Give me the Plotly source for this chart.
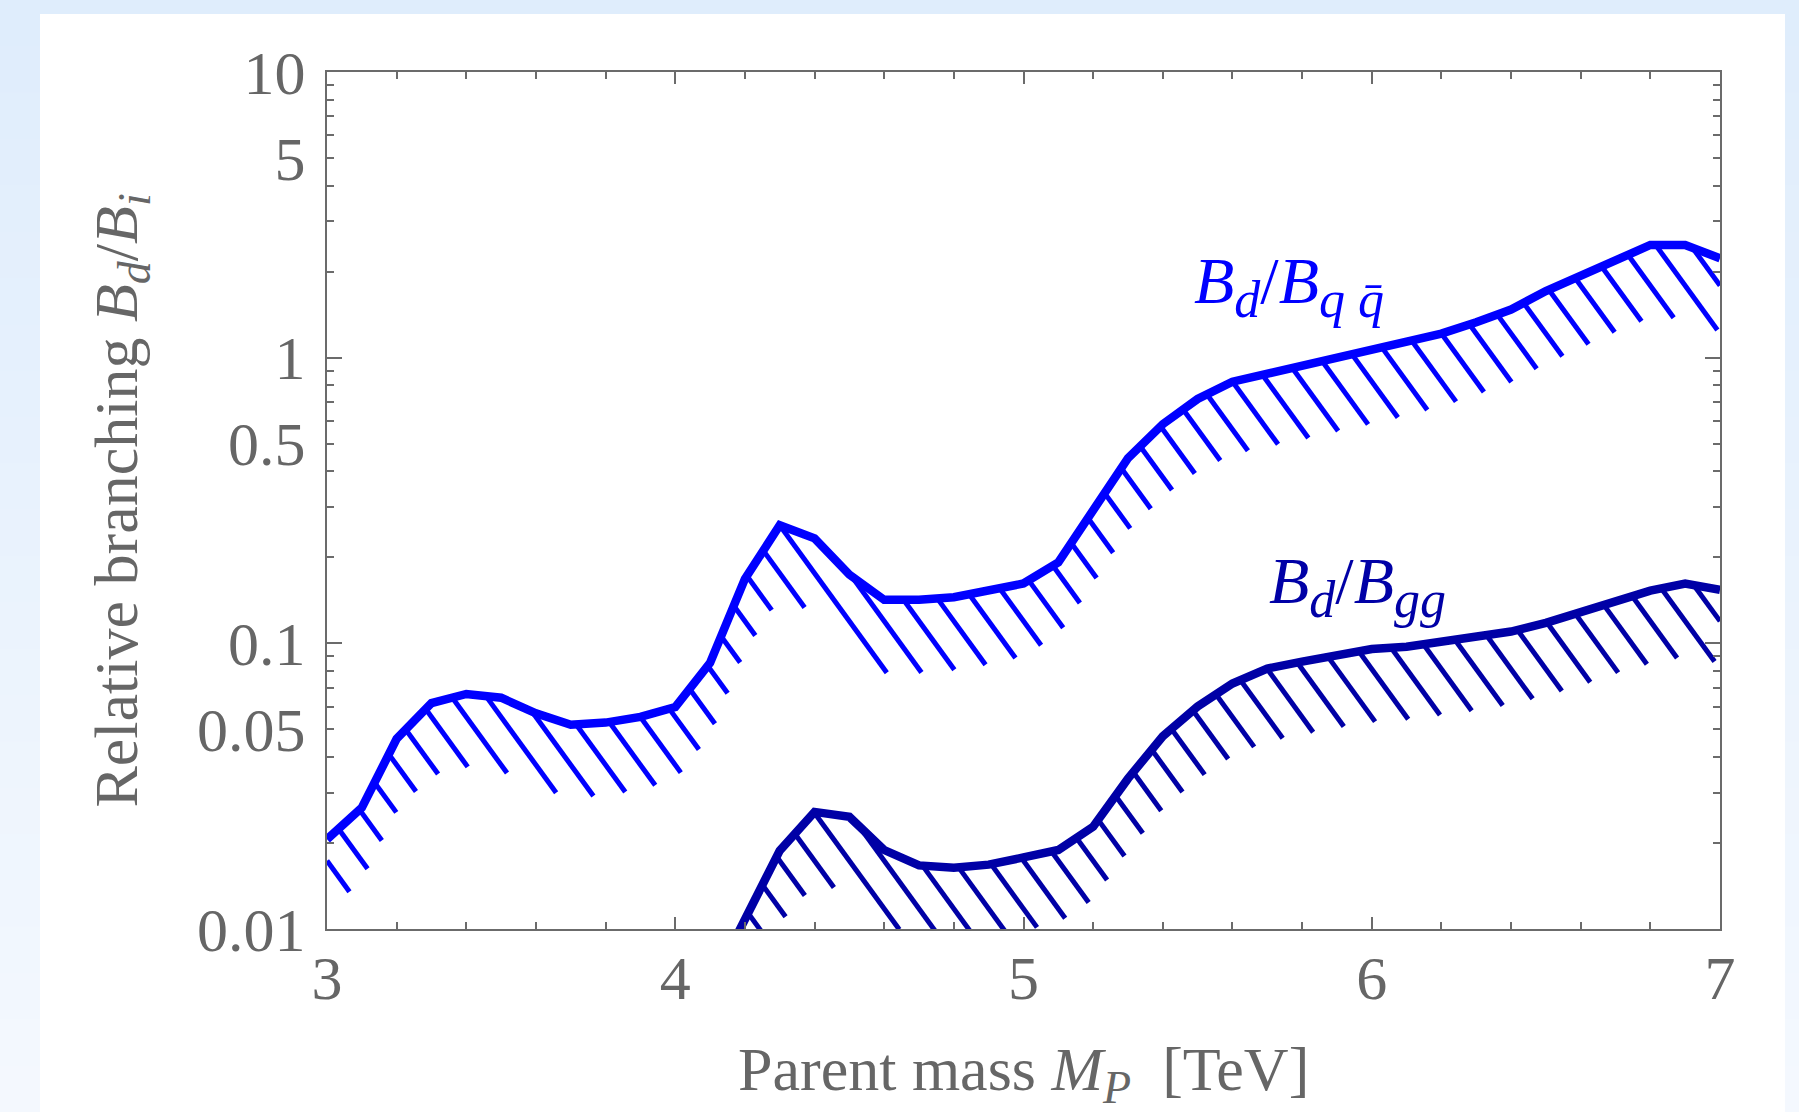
import numpy as np
import plotly.graph_objects as go

# ---------------- data ----------------
mass_qq = [3.0, 3.1, 3.2, 3.3, 3.4, 3.5, 3.6, 3.7, 3.8, 3.9, 4.0, 4.1, 4.2, 4.3, 4.4,
           4.5, 4.6, 4.7, 4.8, 4.9, 5.0, 5.1, 5.2, 5.3, 5.4, 5.5, 5.6, 5.7, 5.8, 5.9,
           6.0, 6.1, 6.2, 6.3, 6.4, 6.5, 6.6, 6.7, 6.8, 6.9, 7.0]
ratio_qq = [0.0206, 0.0266, 0.0463, 0.0618, 0.0665, 0.0645, 0.0569, 0.0519, 0.0528,
            0.0553, 0.0598, 0.0855, 0.168, 0.259, 0.233, 0.174, 0.142, 0.142, 0.145,
            0.152, 0.162, 0.192, 0.292, 0.445, 0.585, 0.717, 0.824, 0.879, 0.929,
            0.991, 1.057, 1.127, 1.214, 1.331, 1.474, 1.71, 1.945, 2.21, 2.48, 2.48, 2.23]

mass_gg = [4.1, 4.2, 4.3, 4.4, 4.5, 4.6, 4.7, 4.8, 4.9, 5.0, 5.1, 5.2, 5.3, 5.4, 5.5,
           5.6, 5.7, 5.8, 5.9, 6.0, 6.1, 6.2, 6.3, 6.4, 6.5, 6.6, 6.7, 6.8, 6.9, 7.0]
ratio_gg = [0.0062, 0.0108, 0.0188, 0.0257, 0.0247, 0.0189, 0.0167, 0.0164, 0.0168,
            0.0178, 0.0189, 0.0228, 0.0336, 0.0473, 0.0601, 0.0723, 0.0816, 0.0863,
            0.0912, 0.0955, 0.0973, 0.101, 0.105, 0.110, 0.118, 0.128, 0.141, 0.153,
            0.162, 0.154]

x_tickvals = [3, 4, 5, 6, 7]
y_tickvals = [0.01, 0.05, 0.1, 0.5, 1, 5, 10]
y_ticktext = ["0.01", "0.05", "0.1", "0.5", "1", "5", "10"]
y_decades = [0.01, 0.1, 1, 10]
y_minor = [m * d for d in [0.01, 0.1, 1] for m in range(2, 10)]

SUB = '<sub><span style="font-size:46px">{}</span></sub>'
SUBL = '<sub><span style="font-size:52px">{}</span></sub>'
label_qq = ("<i>B</i>" + SUBL.format("<i>d</i>") + "/<i>B</i>"
            + SUBL.format("<i>q</i> <i>q\u0304</i>"))
label_gg = "<i>B</i>" + SUBL.format("<i>d</i>") + "/<i>B</i>" + SUBL.format("<i>gg</i>")
x_title = "Parent mass <i>M</i>" + SUB.format("<i>P</i>") + "  [TeV]"
y_title = ("Relative branching <i>B</i>" + SUB.format("<i>d</i>") + "/<i>B</i>"
           + SUB.format("<i>i</i>"))

# ---------------- layout geometry ----------------
W, H = 1799, 1112
L, R, T, B = 327, 1720, 72, 929
plot_w, plot_h = R - L, B - T
XR = [3, 7]
YR = [-2, 1]

def px_x(p):   # pixel -> paper x
    return (p - L) / plot_w

def px_y(p):   # pixel -> paper y
    return (B - p) / plot_h

# hatch geometry (screen-space angle, spacing, band depth in decades)
angle = np.deg2rad(54)
sx = plot_w / (XR[1] - XR[0])
sy = plot_h / (YR[1] - YR[0])
k = np.tan(angle) * sx / sy          # decades per TeV along a hatch line
spacing_x = 0.1                      # horizontal spacing of hatch lines [TeV]
dc = k * spacing_x
depth = 0.255                        # band depth [decades]
phase_c = np.log10(ratio_qq[13]) + k * mass_qq[13]
min_len_px = 10


def hatch_segments(xs, ys):
    lx = np.asarray(xs, float)
    lg = np.log10(np.asarray(ys, float))
    grid = np.linspace(lx[0], lx[-1], 8001)
    g = np.interp(grid, lx, lg)
    cmin = (g - depth + k * grid).min()
    cmax = (g + k * grid).max()
    n0 = int(np.floor((cmin - phase_c) / dc)) - 1
    n1 = int(np.ceil((cmax - phase_c) / dc)) + 1
    hx, hy = [], []
    for n in range(n0, n1 + 1):
        c = phase_c + n * dc
        Lv = c - k * grid
        inside = (Lv <= g) & (Lv >= g - depth)
        edges = np.flatnonzero(np.diff(np.concatenate([[0], inside.astype(int), [0]])))
        for s, e in zip(edges[::2], edges[1::2]):
            e = e - 1
            if e <= s:
                continue
            seg_len = np.hypot((grid[e] - grid[s]) * sx, (Lv[e] - Lv[s]) * sy)
            if seg_len < min_len_px:
                continue
            hx += [grid[s], grid[e], None]
            hy += [10 ** Lv[s], 10 ** Lv[e], None]
    return hx, hy


col_qq = "#0000FF"
col_gg = "#0000A6"
axis_col = "#6b6b6b"
text_col = "#666666"
font_fam = "Liberation Serif"
fs = 62
fs_lab = 66

fig = go.Figure()

hx, hy = hatch_segments(mass_qq, ratio_qq)
fig.add_trace(go.Scatter(x=hx, y=hy, mode="lines", line=dict(color=col_qq, width=5),
                         hoverinfo="skip", showlegend=False))
hx, hy = hatch_segments(mass_gg, ratio_gg)
fig.add_trace(go.Scatter(x=hx, y=hy, mode="lines", line=dict(color=col_gg, width=5),
                         hoverinfo="skip", showlegend=False))

fig.add_trace(go.Scatter(x=mass_qq, y=ratio_qq, mode="lines", name="Bd/Bqq",
                         line=dict(color=col_qq, width=8.5), showlegend=False))
fig.add_trace(go.Scatter(x=mass_gg, y=ratio_gg, mode="lines", name="Bd/Bgg",
                         line=dict(color=col_gg, width=8.5), showlegend=False))

# dummy trace on the overlay axis carrying the long decade ticks
fig.add_trace(go.Scatter(x=[5], y=[1], yaxis="y2", mode="markers",
                         marker=dict(opacity=0), hoverinfo="skip", showlegend=False))

tickfont = dict(family=font_fam, size=fs, color=text_col)

fig.update_layout(
    width=W, height=H,
    margin=dict(l=L, r=W - R, t=T, b=H - B),
    paper_bgcolor="#E1EEFC",
    plot_bgcolor="white",
    xaxis=dict(range=XR, showline=True, linecolor=axis_col, linewidth=2, mirror="ticks",
               ticks="inside", ticklen=12, tickwidth=2, tickcolor=axis_col,
               tickmode="array", tickvals=x_tickvals, tickfont=tickfont,
               ticklabelstandoff=-6,
               minor=dict(dtick=0.2, tick0=3, ticks="inside", ticklen=7, tickwidth=2,
                          tickcolor=axis_col, showgrid=False),
               showgrid=False, zeroline=False),
    yaxis=dict(type="log", range=YR, showline=True, linecolor=axis_col, linewidth=2,
               mirror="ticks", ticks="inside", ticklen=7, tickwidth=2, tickcolor=axis_col,
               tickmode="array", tickvals=y_tickvals, ticktext=y_ticktext,
               tickfont=tickfont, ticklabelstandoff=7,
               minor=dict(tickmode="array", tickvals=y_minor, ticks="inside", ticklen=7,
                          tickwidth=2, tickcolor=axis_col, showgrid=False),
               showgrid=False, zeroline=False),
    yaxis2=dict(type="log", range=YR, overlaying="y", side="left", showline=False,
                mirror="ticks", ticks="inside", ticklen=15, tickwidth=2,
                tickcolor=axis_col, tickmode="array", tickvals=y_decades,
                showticklabels=False, showgrid=False, zeroline=False),
)

# background: soft vertical gradient outside, white panel
top_rgb = np.array([223, 237, 252])
bot_rgb = np.array([244, 248, 254])
nb = 24
shapes = []
for i in range(nb):
    t = i / (nb - 1)
    c = (top_rgb * (1 - t) + bot_rgb * t).round().astype(int)
    shapes.append(dict(type="rect", xref="paper", yref="paper", layer="below",
                       x0=px_x(0), x1=px_x(W), y0=px_y(H * (i + 1) / nb + 1), y1=px_y(H * i / nb),
                       line=dict(width=0), fillcolor=f"rgb({c[0]},{c[1]},{c[2]})"))
shapes.append(dict(type="rect", xref="paper", yref="paper", layer="below",
                   x0=px_x(40), x1=px_x(1785), y0=px_y(H + 5), y1=px_y(14),
                   line=dict(width=0), fillcolor="white"))
fig.update_layout(shapes=shapes)

fig.add_annotation(text=label_qq, xref="paper", yref="paper", x=px_x(1192), y=px_y(286),
                   xanchor="left", yanchor="middle", showarrow=False,
                   font=dict(family=font_fam, size=fs_lab, color=col_qq))
fig.add_annotation(text=label_gg, xref="paper", yref="paper", x=px_x(1267), y=px_y(586),
                   xanchor="left", yanchor="middle", showarrow=False,
                   font=dict(family=font_fam, size=fs_lab, color=col_gg))
fig.add_annotation(text=x_title, xref="paper", yref="paper", x=0.5, y=px_y(1074),
                   xanchor="center", yanchor="middle", showarrow=False,
                   font=dict(family=font_fam, size=fs, color=text_col))
fig.add_annotation(text=y_title, xref="paper", yref="paper", x=px_x(120), y=0.5,
                   xanchor="center", yanchor="middle", textangle=-90, showarrow=False,
                   font=dict(family=font_fam, size=fs, color=text_col))

fig.write_html("out.html")
